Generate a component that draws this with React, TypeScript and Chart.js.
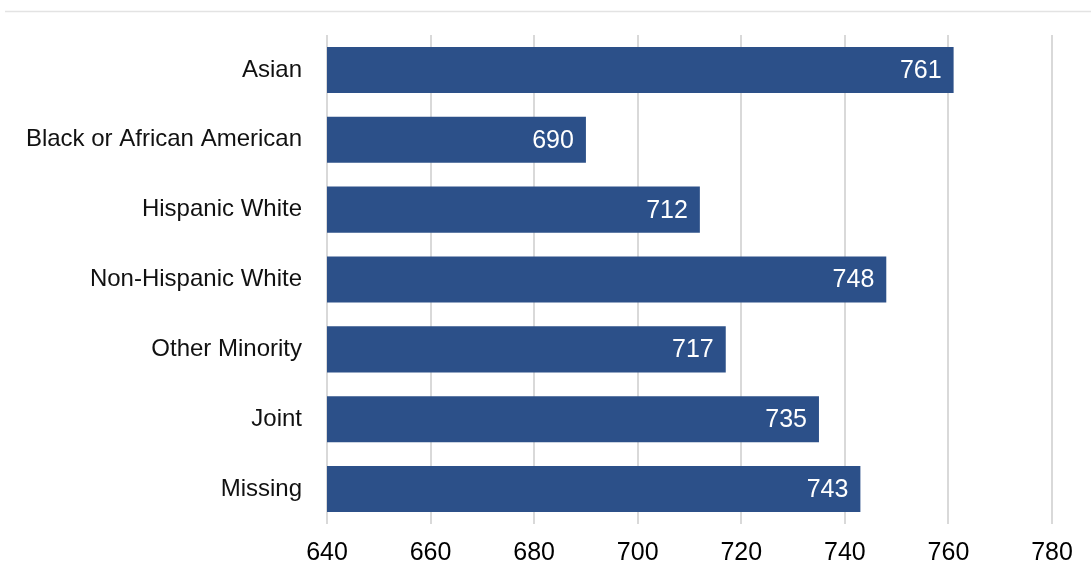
import React, { useEffect, useRef } from "react";
import { Chart, registerables } from "chart.js";

Chart.register(...registerables);

const categories = [
  "Asian",
  "Black or African American",
  "Hispanic White",
  "Non-Hispanic White",
  "Other Minority",
  "Joint",
  "Missing",
];
const values = [761, 690, 712, 748, 717, 735, 743];
const xMin = 640;
const xMax = 780;
const xStep = 20;

const FONT = "'Liberation Sans', Arial, sans-serif";

const topLinePlugin = {
  id: "topLine",
  beforeDraw(chart: any) {
    const ctx = chart.ctx;
    ctx.save();
    ctx.strokeStyle = "#e3e3e3";
    ctx.lineWidth = 1.5;
    ctx.beginPath();
    ctx.moveTo(5, 11.5);
    ctx.lineTo(chart.width, 11.5);
    ctx.stroke();
    ctx.restore();
  },
};

const labelPlugin = {
  id: "barLabels",
  afterDatasetsDraw(chart: any) {
    const ctx = chart.ctx;
    const meta = chart.getDatasetMeta(0);
    ctx.save();
    ctx.fillStyle = "#ffffff";
    ctx.font = `25px ${FONT}`;
    ctx.textAlign = "right";
    ctx.textBaseline = "middle";
    meta.data.forEach((bar: any, i: number) => {
      ctx.fillText(String(values[i]), bar.x - 12, bar.y + 1);
    });
    ctx.restore();
  },
};

export default function App() {
  const ref = useRef<HTMLCanvasElement | null>(null);
  useEffect(() => {
    document.body.style.margin = "0";
    const chart = new Chart(ref.current!, {
      type: "bar",
      data: {
        labels: categories,
        datasets: [
          {
            data: values,
            backgroundColor: "#2c5089",
            borderWidth: 0,
            barPercentage: 0.66,
            categoryPercentage: 1,
          },
        ],
      },
      options: {
        indexAxis: "y",
        animation: false,
        responsive: false,
        maintainAspectRatio: false,
        layout: { padding: { top: 35, right: 39, left: 0, bottom: 0 } },
        plugins: { legend: { display: false }, tooltip: { enabled: false } },
        scales: {
          x: {
            min: xMin,
            max: xMax,
            ticks: {
              stepSize: xStep,
              color: "#000000",
              font: { family: FONT, size: 25 },
              padding: 14,
            },
            grid: { color: "#d9d9d9", lineWidth: 2, drawTicks: false },
            border: { display: false },
            afterFit: (s: any) => {
              s.height = 42;
              s.paddingLeft = 0;
              s.paddingRight = 0;
            },
          },
          y: {
            ticks: {
              color: "#111111",
              font: { family: FONT, size: 24 },
              padding: 25,
            },
            grid: { display: false, drawTicks: false },
            border: { display: false },
            afterFit: (s: any) => {
              s.width = 327;
              s.paddingTop = 0;
              s.paddingBottom = 0;
            },
          },
        },
      },
      plugins: [topLinePlugin, labelPlugin],
    });
    return () => chart.destroy();
  }, []);
  return <canvas ref={ref} width={1091} height={566} style={{ display: "block" }} />;
}
